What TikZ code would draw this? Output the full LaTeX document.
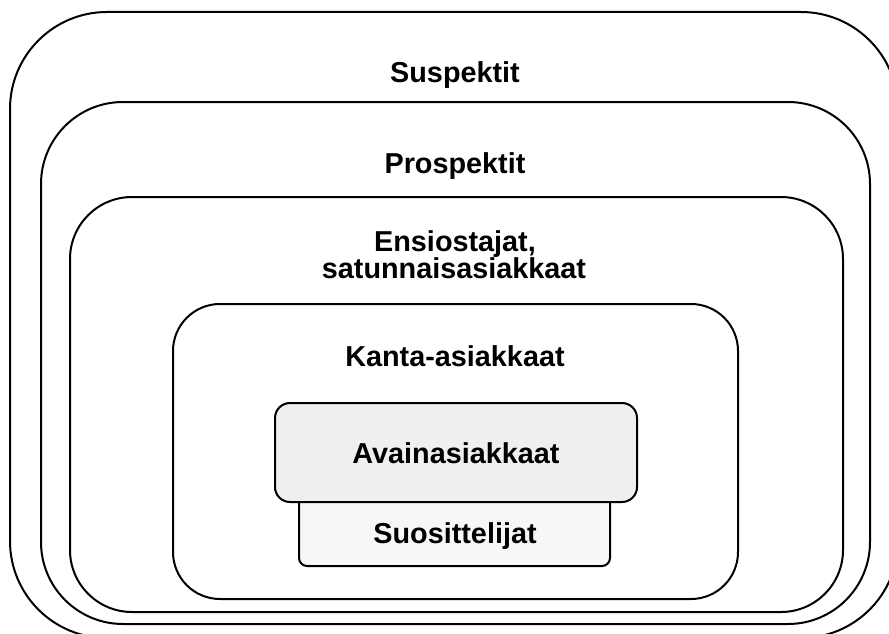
\documentclass[tikz,border=0pt]{standalone}
\usepackage{fontspec}
\setmainfont{Liberation Sans}
\begin{document}
\begin{tikzpicture}[x=1pt,y=-1pt,
  boxline/.style={draw=black,line width=2pt},
  lbl/.style={anchor=base,inner sep=0pt,font=\bfseries\fontsize{28.8}{27.5}\selectfont}]
\useasboundingbox (0,0) rectangle (889,634);
\clip (0,0) rectangle (889,634);
% nested rounded boxes
\draw[boxline,rounded corners=97pt] (10,12) rectangle (898,638);
\draw[boxline,rounded corners=82pt] (41,102) rectangle (870,624);
\draw[boxline,rounded corners=62pt] (70,197) rectangle (843,612);
\draw[boxline,rounded corners=47pt] (173,304) rectangle (738,599);
\draw[boxline,fill={rgb,255:red,247;green,247;blue,247},rounded corners=8pt] (299,480) rectangle (610,566);
\draw[boxline,fill={rgb,255:red,239;green,239;blue,239},rounded corners=15pt] (275,403) rectangle (637,502);
% labels
\node[lbl] (susp) at (455,83) {Suspektit};
\node[lbl] (prosp) at (455,173) {Prospektit};
\node[lbl] (ens1) at (455,251) {Ensiostajat,};
\node[lbl] (ens2) at (454,278) {satunnaisasiakkaat};
\node[lbl] (kanta) at (455,366) {Kanta-asiakkaat};
\node[lbl] (avain) at (456,463) {Avainasiakkaat};
\node[lbl] (suos) at (455,543) {Suosittelijat};
\end{tikzpicture}
\end{document}
